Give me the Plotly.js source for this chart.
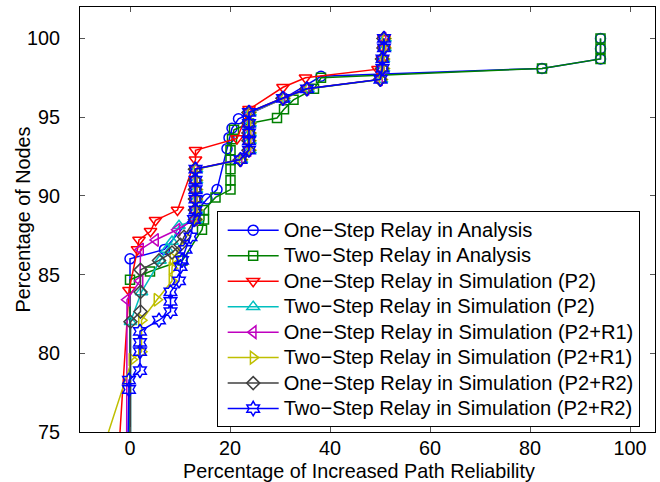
<!DOCTYPE html>
<html>
<head>
<meta charset="utf-8">
<script src="https://cdn.plot.ly/plotly-3.0.1.min.js"></script>
<style>
html,body{margin:0;padding:0;background:#fff;}
#chart{width:660px;height:482px;}
.legendtext{font-size:20.1px !important;}
</style>
</head>
<body>
<div id="chart"></div>
<script>
// ---- Data ----
var seriesNames = [
  "One\u2212Step Relay in Analysis",
  "Two\u2212Step Relay in Analysis",
  "One\u2212Step Relay in Simulation (P2)",
  "Two\u2212Step Relay in Simulation (P2)",
  "One\u2212Step Relay in Simulation (P2+R1)",
  "Two\u2212Step Relay in Simulation (P2+R1)",
  "One\u2212Step Relay in Simulation (P2+R2)",
  "Two\u2212Step Relay in Simulation (P2+R2)"
];

var oneStepAnalysisX = [0, 0, 6.9, 15.4, 17.4, 19.4, 19.8, 20.4, 21.7, 30.8, 38.2, 82.4, 94.1, 94.1, 94.1];
var oneStepAnalysisY = [70, 86.0, 86.6, 89.8, 90.4, 93.0, 93.7, 94.3, 94.9, 96.2, 97.6, 98.1, 98.7, 99.35, 100];

var twoStepAnalysisX = [0, 0, 4.0, 10.5, 14.4, 14.8, 14.8, 17.1, 20.1, 20.1, 20.1, 20.1, 20.1, 20.4, 20.8, 23.8, 29.4, 30.8, 32.7, 36.8, 38.2, 82.4, 94.1, 94.1, 94.1];
var twoStepAnalysisY = [70, 84.67, 85.2, 85.9, 87.85, 88.5, 89.1, 89.9, 90.4, 91.0, 91.7, 92.3, 92.9, 93.6, 94.2, 94.6, 94.95, 95.5, 96.1, 96.8, 97.5, 98.1, 98.7, 99.35, 100];

var oneStepP2X = [-2.6, -0.2, 1.5, 1.8, 4.1, 5.1, 9.5, 13.1, 13.1, 21.4, 23.8, 30.6, 35.1, 49.6, 50.5, 50.8, 50.8];
var oneStepP2Y = [72, 84.0, 86.6, 87.2, 87.75, 88.45, 89.1, 92.3, 92.9, 93.65, 95.5, 96.9, 97.5, 98.05, 98.7, 99.35, 100];

var twoStepP2X = [0.1, 0.1, 2.3, 6.0, 7.4, 8.4, 9.8, 13.3, 13.3, 13.3, 13.3, 13.3, 13.3, 22.3, 24.0, 24.0, 24.0, 24.0, 24.0, 30.8, 35.6, 50.3, 50.7, 50.7, 51.0, 51.0];
var twoStepP2Y = [70, 82.0, 83.9, 85.9, 86.6, 87.1, 88.1, 88.5, 89.1, 89.8, 90.4, 91.0, 91.7, 92.3, 92.9, 93.5, 94.0, 94.6, 95.3, 96.2, 96.8, 97.4, 98.1, 98.7, 99.4, 100];

var oneStepP2R1X = [-0.7, -0.6, 2.0, 2.1, 5.1, 9.4, 12.9, 12.9, 12.9, 12.9, 12.9, 12.9, 21.8, 23.6, 23.6, 23.6, 23.6, 23.6, 30.4, 35.2, 49.9, 50.3, 50.3, 50.6, 50.6];
var oneStepP2R1Y = [70, 83.4, 84.6, 86.6, 87.2, 87.85, 88.5, 89.1, 89.8, 90.4, 91.0, 91.7, 92.3, 92.9, 93.5, 94.0, 94.6, 95.3, 96.2, 96.8, 97.4, 98.1, 98.7, 99.4, 100];

var twoStepP2R1X = [-8.9, 0.4, 2.3, 2.3, 5.4, 8.4, 8.4, 8.6, 13.4, 13.4, 13.4, 13.4, 13.4, 13.4, 22.4, 24.1, 24.1, 24.1, 24.1, 24.1, 30.9, 35.7, 50.4, 50.8, 50.8, 51.1, 51.1];
var twoStepP2R1Y = [70.5, 79.6, 80.1, 82.1, 83.4, 84.6, 85.4, 86.0, 88.5, 89.1, 89.8, 90.4, 91.0, 91.7, 92.3, 92.9, 93.5, 94.0, 94.6, 95.3, 96.2, 96.8, 97.4, 98.1, 98.7, 99.4, 100];

var oneStepP2R2X = [0.1, 0.1, 2.1, 2.1, 2.1, 5.8, 8.4, 10.1, 10.8, 13.0, 13.0, 13.0, 13.0, 13.0, 13.0, 22.0, 23.7, 23.7, 23.7, 23.7, 23.7, 30.5, 35.3, 50.0, 50.4, 50.4, 50.7, 50.7];
var oneStepP2R2Y = [70, 82.0, 82.65, 83.9, 85.3, 85.9, 86.4, 86.9, 87.4, 88.5, 89.1, 89.8, 90.4, 91.0, 91.7, 92.3, 92.9, 93.5, 94.0, 94.6, 95.3, 96.2, 96.8, 97.4, 98.1, 98.7, 99.4, 100];

var twoStepP2R2X = [-0.6, -0.2, -0.2, 2.0, 2.0, 2.0, 2.0, 5.8, 8.1, 8.1, 8.1, 9.8, 10.1, 10.4, 11.1, 12.1, 12.8, 13.1, 13.1, 13.1, 13.1, 13.1, 22.1, 23.8, 23.8, 23.8, 23.8, 23.8, 30.6, 35.4, 50.1, 50.5, 50.5, 50.8, 50.8];
var twoStepP2R2Y = [70, 77.7, 78.3, 78.9, 80.1, 80.7, 81.4, 82.1, 82.65, 83.3, 83.9, 84.6, 85.5, 85.9, 86.6, 87.4, 88.5, 89.1, 89.8, 90.4, 91.0, 91.7, 92.3, 92.9, 93.5, 94.0, 94.6, 95.3, 96.2, 96.8, 97.4, 98.1, 98.7, 99.4, 100];

var xTickVals = [0, 20, 40, 60, 80, 100];
var yTickVals = [75, 80, 85, 90, 95, 100];
var xTitle = "Percentage of Increased Path Reliability";
var yTitle = "Percentage of Nodes";

// ---- Styles ----
var seriesX = [oneStepAnalysisX, twoStepAnalysisX, oneStepP2X, twoStepP2X, oneStepP2R1X, twoStepP2R1X, oneStepP2R2X, twoStepP2R2X];
var seriesY = [oneStepAnalysisY, twoStepAnalysisY, oneStepP2Y, twoStepP2Y, oneStepP2R1Y, twoStepP2R1Y, oneStepP2R2Y, twoStepP2R2Y];
var colors = ["#0000ff", "#008000", "#ff0000", "#00bfbf", "#bf00bf", "#bfbf00", "#404040", "#0000ff"];
var symbols = ["circle-open", "square-open", "triangle-down-open", "triangle-up-open", "triangle-left-open", "triangle-right-open", "diamond-open", "hexagram-open"];
var sizes = [10, 9, 11, 11, 11, 11, 10, 11];

var traces = seriesNames.map(function (name, i) {
  return {
    type: "scatter",
    mode: "lines+markers",
    name: name,
    x: seriesX[i],
    y: seriesY[i],
    line: {color: colors[i], width: 1.5},
    marker: {symbol: symbols[i], size: sizes[i], color: colors[i], line: {color: colors[i], width: 1.5}}
  };
});

var fontFam = "Liberation Sans, Arial, Helvetica, sans-serif";
var FS = 19.8;
var layout = {
  width: 660,
  height: 482,
  margin: {l: 80, r: 5, t: 7, b: 50},
  paper_bgcolor: "#ffffff",
  plot_bgcolor: "#ffffff",
  font: {family: fontFam, size: FS, color: "#000"},
  showlegend: true,
  xaxis: {
    range: [-10, 105],
    tickvals: xTickVals,
    ticktext: xTickVals.map(String),
    ticks: "inside",
    ticklen: 5,
    tickcolor: "#555",
    showline: true,
    linecolor: "#000",
    linewidth: 1,
    mirror: "ticks",
    showgrid: false,
    zeroline: false,
    ticklabelstandoff: -2,
    tickfont: {size: FS}
  },
  yaxis: {
    range: [75, 102],
    tickvals: yTickVals,
    ticktext: yTickVals.map(String),
    ticks: "inside",
    ticklen: 5,
    tickcolor: "#555",
    showline: true,
    linecolor: "#000",
    linewidth: 1,
    mirror: "ticks",
    showgrid: false,
    zeroline: false,
    ticklabelstandoff: 15,
    tickfont: {size: FS}
  },
  annotations: [{
    text: xTitle,
    xref: "paper", yref: "paper",
    x: (359 - 80) / 575, y: -26 / 425,
    xanchor: "center", yanchor: "top",
    showarrow: false,
    font: {size: FS, family: fontFam, color: "#000"}
  }, {
    text: yTitle,
    xref: "paper", yref: "paper",
    x: (22 - 80) / 575, y: 0.5,
    xanchor: "center", yanchor: "middle",
    textangle: -90,
    showarrow: false,
    font: {size: FS, family: fontFam, color: "#000"}
  }],
  legend: {
    x: 0.2377,
    y: 0.519,
    xanchor: "left",
    yanchor: "top",
    bgcolor: "#ffffff",
    bordercolor: "#000",
    borderwidth: 1,
    font: {size: 17.3},
    itemwidth: 51,
    indentation: 5
  }
};

Plotly.newPlot("chart", traces, layout, {displayModeBar: false, staticPlot: true});
</script>
</body>
</html>
